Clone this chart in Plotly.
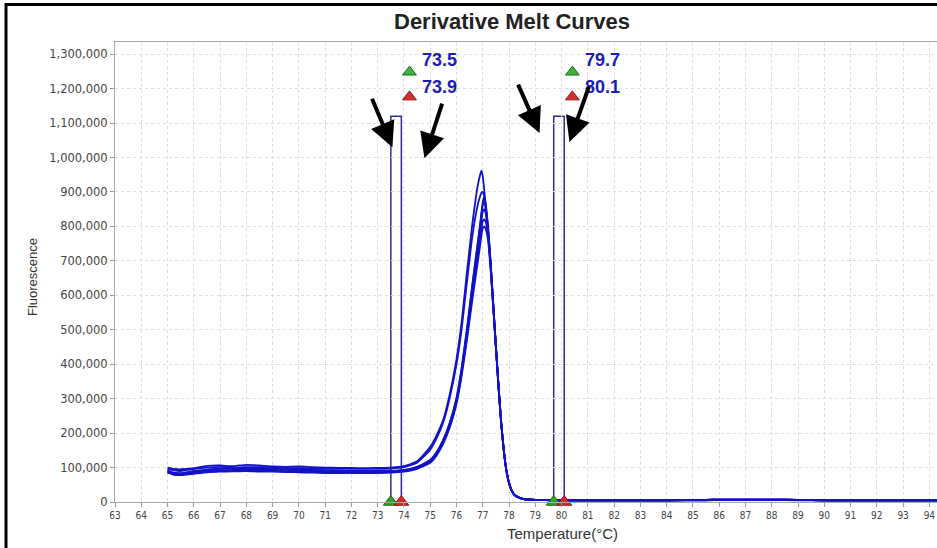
import plotly.graph_objects as go

# Temperatures (°C) shared by all melt curves
TEMPS = [65.0, 65.25, 65.5, 66.0, 66.5, 67.0, 67.5, 68.0, 68.5, 69.0,
         69.5, 70.0, 70.5, 71.0, 71.5, 72.0, 72.5, 73.0, 73.5, 74.0,
         74.5, 75.0, 75.25, 75.5, 75.75, 76.0, 76.2, 76.4, 76.6, 76.8,
         76.9, 76.95, 77.0, 77.05, 77.1, 77.2, 77.3, 77.4, 77.5, 77.6,
         77.7, 77.8, 77.9, 78.0, 78.1, 78.2, 78.4, 78.6, 79.0, 80.0,
         82.0, 84.0, 85.5, 86.0, 88.0, 89.0, 90.0, 92.0, 94.0, 95.0]

# Derivative fluorescence (thousands) for each well
CURVE_A = [100, 96, 95, 98, 105, 106, 104, 108, 106, 103,
           102, 103, 101, 100, 99, 99, 98, 99, 100, 104,
           118, 160, 195, 240, 315, 415, 525, 670, 805, 915,
           950, 962, 945, 910, 870, 790, 690, 570, 450, 335,
           230, 150, 92, 56, 34, 22, 12, 8, 6, 5,
           5, 5, 5, 6, 6, 5, 5, 5, 5, 5]
CURVE_B = [97, 92, 90, 96, 100, 102, 100, 101, 101, 100,
           98, 98, 97, 96, 96, 96, 96, 96, 97, 101,
           114, 152, 186, 232, 305, 400, 505, 640, 770, 860,
           888, 898, 900, 890, 860, 785, 688, 568, 448, 333,
           228, 148, 90, 55, 33, 21, 12, 8, 6, 5,
           5, 5, 5, 6, 6, 6, 5, 5, 5, 5]
CURVE_C = [88, 82, 80, 84, 90, 92, 93, 94, 95, 94,
           93, 92, 90, 89, 89, 88, 88, 88, 89, 92,
           101, 121, 144, 180, 230, 300, 388, 500, 625, 745,
           805, 840, 870, 885, 872, 800, 695, 575, 455, 340,
           234, 152, 92, 56, 34, 22, 12, 8, 6, 5,
           5, 5, 6, 7, 7, 6, 5, 5, 5, 5]
CURVE_D = [92, 85, 82, 87, 93, 96, 98, 97, 96, 95,
           95, 94, 93, 92, 91, 90, 90, 90, 90, 93,
           102, 122, 146, 182, 232, 302, 392, 505, 630, 748,
           805, 838, 862, 870, 860, 795, 692, 572, 452, 338,
           232, 150, 91, 55, 33, 21, 12, 8, 6, 5,
           5, 5, 6, 7, 7, 6, 5, 5, 5, 5]
CURVE_E = [86, 80, 79, 85, 88, 90, 92, 92, 90, 90,
           89, 88, 87, 86, 86, 86, 86, 86, 87, 90,
           99, 118, 140, 175, 224, 292, 380, 490, 610, 728,
           785, 818, 843, 850, 842, 785, 686, 568, 450, 336,
           232, 150, 91, 55, 33, 21, 12, 8, 6, 5,
           5, 5, 6, 7, 7, 6, 5, 5, 5, 5]
CURVE_F = [90, 84, 84, 90, 94, 97, 99, 100, 98, 97,
           96, 95, 93, 91, 90, 89, 89, 89, 90, 92,
           100, 118, 140, 174, 222, 290, 375, 482, 598, 710,
           765, 795, 815, 820, 815, 775, 680, 565, 448, 334,
           230, 149, 90, 55, 33, 21, 12, 8, 6, 5,
           5, 5, 6, 7, 7, 6, 5, 5, 5, 5]
CURVE_G = [85, 79, 78, 82, 86, 88, 89, 90, 88, 88,
           87, 86, 85, 84, 84, 84, 84, 84, 85, 88,
           96, 114, 136, 170, 218, 285, 368, 472, 585, 692,
           745, 775, 795, 800, 795, 760, 672, 560, 445, 332,
           228, 148, 90, 55, 33, 21, 12, 8, 6, 5,
           5, 5, 6, 7, 7, 6, 5, 5, 5, 5]
CURVES = [CURVE_A, CURVE_B, CURVE_C, CURVE_D, CURVE_E, CURVE_F, CURVE_G]

# Melt-region bars (start, end) and their height
BAR_STARTS = [73.5, 79.7]
BAR_ENDS = [73.9, 80.1]
BAR_TOP = 1120000

# Arrows: (tail_x, tail_y, head_x, head_y) in data units
ARROWS = [(72.76, 1175000, 73.56, 1030000),
          (75.47, 1161000, 74.78, 998000),
          (78.32, 1216000, 79.16, 1071000),
          (81.06, 1210000, 80.30, 1045000)]

X_TICKS = list(range(63, 95))
Y_TICKS = list(range(0, 1300001, 100000))

CURVE_COLOR = "#1212c8"
BAR_COLOR = "#2c2c92"
LABEL_COLOR = "#1c1cb8"

fig = go.Figure()
for c in CURVES:
    fig.add_trace(go.Scatter(x=TEMPS, y=[v * 1000 for v in c], mode="lines",
                             line=dict(color=CURVE_COLOR, width=1.8, shape="spline", smoothing=0.5),
                             showlegend=False, hoverinfo="skip"))

# bottom marker triangles on the axis
for s, e in zip(BAR_STARTS, BAR_ENDS):
    fig.add_trace(go.Scatter(x=[s], y=[0], mode="markers", cliponaxis=False, showlegend=False,
                             marker=dict(symbol="triangle-up", size=13, color="#2fa32f",
                                         line=dict(color="#1b6b1b", width=1))))
    fig.add_trace(go.Scatter(x=[e], y=[0], mode="markers", cliponaxis=False, showlegend=False,
                             marker=dict(symbol="triangle-up", size=13, color="#d42a2a",
                                         line=dict(color="#8b1a1a", width=1))))
    # top legend triangles
    fig.add_trace(go.Scatter(x=[e + 0.31], y=[1248000], mode="markers", cliponaxis=False, showlegend=False,
                             marker=dict(symbol="triangle-up", size=12, color="#3cb43c",
                                         line=dict(color="#1b6b1b", width=1))))
    fig.add_trace(go.Scatter(x=[e + 0.31], y=[1176000], mode="markers", cliponaxis=False, showlegend=False,
                             marker=dict(symbol="triangle-up", size=12, color="#d43030",
                                         line=dict(color="#8b1a1a", width=1))))

shapes = []
for s, e in zip(BAR_STARTS, BAR_ENDS):
    shapes.append(dict(type="rect", xref="x", yref="y", x0=s, x1=e, y0=0, y1=BAR_TOP, layer="below",
                       line=dict(color=BAR_COLOR, width=1.5), fillcolor="rgba(0,0,0,0)"))
# outer black frame (left and top edges of the screenshot)
shapes.append(dict(type="rect", xref="paper", yref="paper", x0=-0.1326, x1=1.2, y0=-0.3, y1=1.0815,
                   line=dict(color="black", width=3), fillcolor="rgba(0,0,0,0)"))

annotations = []
for s, e in zip(BAR_STARTS, BAR_ENDS):
    annotations.append(dict(x=e, y=1282000, xref="x", yref="y", text=f"<b>{s}</b>", showarrow=False,
                            xanchor="left", yanchor="middle", xshift=19,
                            font=dict(family="Liberation Sans, Arial", size=18, color=LABEL_COLOR)))
    annotations.append(dict(x=e, y=1205000, xref="x", yref="y", text=f"<b>{e}</b>", showarrow=False,
                            xanchor="left", yanchor="middle", xshift=19,
                            font=dict(family="Liberation Sans, Arial", size=18, color=LABEL_COLOR)))
for tx, ty, hx, hy in ARROWS:
    annotations.append(dict(x=hx, y=hy, ax=tx, ay=ty, xref="x", yref="y", axref="x", ayref="y",
                            text="", showarrow=True, arrowhead=2, arrowsize=1.25, arrowwidth=4,
                            arrowcolor="black"))
annotations.append(dict(x=(562 - 115) / 822, y=(502 - 533) / 460, xref="paper", yref="paper",
                        text="Temperature(°C)", showarrow=False, xanchor="center", yanchor="middle",
                        font=dict(family="Liberation Sans, Arial", size=15, color="#333")))
annotations.append(dict(x=(32 - 115) / 822, y=(502 - 277) / 460, xref="paper", yref="paper",
                        text="Fluorescence", showarrow=False, textangle=-90, xanchor="center",
                        yanchor="middle", font=dict(family="Liberation Sans Narrow, Liberation Sans, Arial",
                                                    size=13, color="#333")))

fig.update_layout(
    width=937, height=548,
    margin=dict(l=115, r=0, t=42, b=46),
    paper_bgcolor="white", plot_bgcolor="white",
    title=dict(text="<b>Derivative Melt Curves</b>", x=(512 - 115) / 822, xref="paper", xanchor="center",
               y=1 - 21 / 548, yanchor="middle",
               font=dict(family="Liberation Sans, Arial", size=22, color="#222")),
    shapes=shapes, annotations=annotations,
    xaxis=dict(range=[63, 63 + 822 / 26.27], tickvals=X_TICKS, ticktext=[str(t) for t in X_TICKS],
               showgrid=True, gridcolor="#dcdcdc", griddash="dot", gridwidth=1,
               showline=True, linecolor="#a8a8a8", linewidth=1, mirror=True,
               ticks="outside", ticklen=4, tickcolor="#999", zeroline=False,
               tickfont=dict(family="Liberation Sans Narrow, DejaVu Sans Condensed, Arial", size=10, color="#444")),
    yaxis=dict(range=[0, 460 / 34.45 * 100000], tickvals=Y_TICKS, tickformat=",",
               showgrid=True, gridcolor="#dcdcdc", griddash="dot", gridwidth=1,
               showline=True, linecolor="#a8a8a8", linewidth=1, mirror=True,
               ticks="outside", ticklen=4, tickcolor="#999", zeroline=False,
               tickfont=dict(family="DejaVu Sans, Verdana", size=11.5, color="#444")),
)

fig.write_html("out.html", config={"displayModeBar": False},
               post_script="document.body.style.margin='0';document.body.style.overflow='hidden';")
